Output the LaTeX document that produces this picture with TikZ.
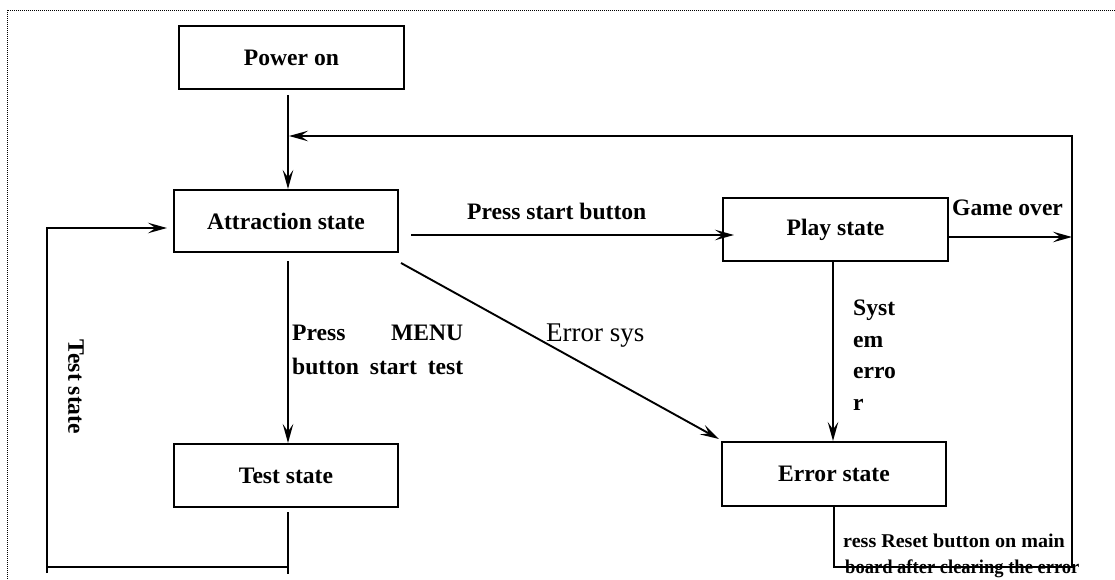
\documentclass[tikz,border=0pt]{standalone}
\usepackage{fontspec}
\setmainfont{Liberation Serif}
\usetikzlibrary{arrows.meta}
\begin{document}
\begin{tikzpicture}[x=1pt,y=-1pt,
  box/.style={draw, line width=2pt, minimum width=224pt, minimum height=63pt, inner sep=0pt,
    font=\bfseries\fontsize{23.6}{28}\selectfont},
  lbl/.style={inner sep=0pt, font=\bfseries\fontsize{23.6}{28}\selectfont},
  small/.style={inner sep=0pt, font=\bfseries\fontsize{19.5}{22}\selectfont},
  conn/.style={line width=1.9pt},
  arr/.style={conn, -{Stealth[length=19pt,width=10.5pt,inset=7.5pt]}},
  frame/.style={line width=0.9pt, dash pattern=on 1pt off 1pt}]
\clip (0,0) rectangle (1115,580);
\draw[frame] (7,10) rectangle (1140,600);

% boxes
\node[box, minimum width=225pt] (power) at (291.5,57.5) {Power on};
\node[box, minimum height=62pt] (attr) at (286,221) {Attraction state};
\node[box] (test) at (286,475.5) {Test state};
\node[box, minimum width=225pt] (play) at (835.5,229.5) {Play state};
\node[box, minimum height=64pt] (err) at (834,474) {Error state};

% helper coordinates
\coordinate (rt) at (1072,136);
\coordinate (rj) at (289,136);
\coordinate (br) at (1072,567);
\coordinate (lt) at (47,228);
\coordinate (lb) at (47,573);
\coordinate (lh) at (47,567);
\coordinate (ain) at (167,228);

% connectors
\draw[arr] ([shift={(-3.5,5)}]power.south) -- ([xshift=2pt]attr.north);
\draw[arr] (err.south) |- (br) |- (rj);
\draw[arr] ([shift={(12,14)}]attr.east) -- ([shift={(12,14)}]attr.east -| play.west);
\draw[arr] ([yshift=-7.5pt]play.east) -- ([yshift=-7.5pt]play.east -| br);
\draw[arr] ([shift={(2,10)}]attr.south east) -- ([shift={(-2,-2)}]err.north west);
\draw[arr] ([shift={(2,8)}]attr.south) -- ([xshift=2pt]test.north);
\draw[arr] ([xshift=-2.5pt]play.south) -- ([xshift=-2.5pt]play.south |- err.north);
\draw[conn] ([shift={(2,4)}]test.south) -- ++(0,62);
\draw[arr] (lb) -- (lt) -- (ain);
\draw[conn] (lh) -- (lh -| test.south) -- ++(2,0);

% labels
\node[lbl, anchor=base west] (psb) at (467,219) {Press start button};
\node[lbl, anchor=base west] (go) at (952,215) {Game over};
\node[lbl, anchor=base west] (pm1) at (292,340) {\makebox[171pt][s]{Press\hfill MENU}};
\node[lbl, anchor=base west] (pm2) at (292,374) {\makebox[171pt][s]{button start test}};
\node[inner sep=0pt, font=\fontsize{27}{30}\selectfont, anchor=base west] (es) at (546,341) {Error sys};
\node[lbl, anchor=base west] (se1) at (853,315) {Syst};
\node[lbl, anchor=base west] (se2) at (853,347) {em};
\node[lbl, anchor=base west] (se3) at (853,378) {erro};
\node[lbl, anchor=base west] (se4) at (853,410) {r};
\node[lbl, rotate=-90] (ts) at (76,387) {Test state};
\node[small, anchor=base west] (rs1) at (843,547) {\scalebox{1.03}[1]{ress Reset button on main}};
\node[small, anchor=base west] (rs2) at (845,573) {\scalebox{0.95}[1]{board after clearing the error}};
\end{tikzpicture}
\end{document}
